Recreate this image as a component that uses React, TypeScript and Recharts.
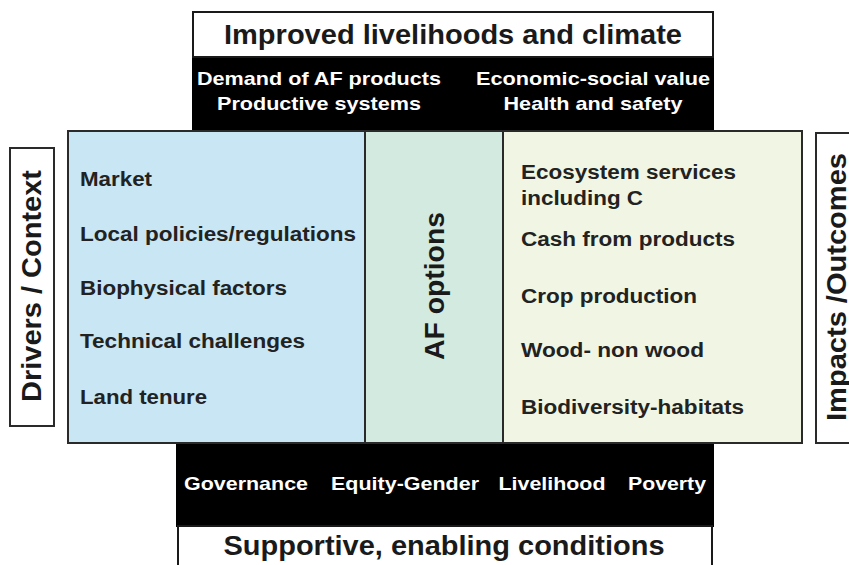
import { ComposedChart, XAxis, YAxis, ReferenceArea, Scatter } from "recharts";

// diagram boxes: [x1, x2, y1, y2] in page pixels
const BOXES = [
  { id: "topBand", x1: 193, x2: 713, y1: 57, y2: 131, fill: "#000000", stroke: "#000000" },
  { id: "bottomBand", x1: 177, x2: 713, y1: 442, y2: 526, fill: "#000000", stroke: "#000000" },
  { id: "topTitle", x1: 193, x2: 713, y1: 12, y2: 57, fill: "#FFFFFF", stroke: "#1A1A1A" },
  { id: "bottomTitle", x1: 178, x2: 712, y1: 526, y2: 570, fill: "#FFFFFF", stroke: "#1A1A1A" },
  { id: "drivers", x1: 68, x2: 365, y1: 131, y2: 443, fill: "#C8E6F3", stroke: "#2A2A2A" },
  { id: "options", x1: 365, x2: 503, y1: 131, y2: 443, fill: "#D3EAE0", stroke: "#2A2A2A" },
  { id: "impacts", x1: 503, x2: 802, y1: 131, y2: 443, fill: "#F1F6E4", stroke: "#2A2A2A" },
  { id: "leftTag", x1: 10, x2: 54, y1: 148, y2: 426, fill: "#FFFFFF", stroke: "#2A2A2A" },
  { id: "rightTag", x1: 816, x2: 860, y1: 133, y2: 443, fill: "#FFFFFF", stroke: "#2A2A2A" },
];

const titleLabels = ["Improved livelihoods and climate", "Supportive, enabling conditions"];
const titleX = [453, 444];
const titleY = [35, 546];
const titleW = [458, 441];

const topBandLabels = ["Demand of AF products", "Productive systems", "Economic-social value", "Health and safety"];
const topBandX = [319, 319, 593, 593];
const topBandY = [78, 103, 78, 103];
const topBandW = [244, 204, 234, 179];

const bottomBandLabels = ["Governance", "Equity-Gender", "Livelihood", "Poverty"];
const bottomBandX = [246, 405, 552, 667];
const bottomBandW = [124, 148, 107, 78];

const driverLabels = ["Market", "Local policies/regulations", "Biophysical factors", "Technical challenges", "Land tenure"];
const driverY = [179, 234, 288, 341, 397];
const driverW = [72, 276, 207, 225, 127];

const impactLabels = ["Ecosystem services", "including C", "Cash from products", "Crop production", "Wood- non wood", "Biodiversity-habitats"];
const impactY = [172, 198, 239, 296, 350, 407];
const impactW = [215, 122, 214, 176, 183, 223];

const sideLabels = ["Drivers / Context", "AF options", "Impacts /Outcomes"];
const sideX = [32, 435, 837];
const sideY = [286, 286, 287];
const sideW = [232, 148, 268];

const FONT = "'Liberation Sans', Arial, sans-serif";

const titleData = titleLabels.map((t, i) => ({ x: titleX[i], y: titleY[i], t, w: titleW[i] }));
const topBandData = topBandLabels.map((t, i) => ({ x: topBandX[i], y: topBandY[i], t, w: topBandW[i] }));
const bottomBandData = bottomBandLabels.map((t, i) => ({ x: bottomBandX[i], y: 483, t, w: bottomBandW[i] }));
const driverData = driverLabels.map((t, i) => ({ x: 80, y: driverY[i], t, w: driverW[i] }));
const impactData = impactLabels.map((t, i) => ({ x: 521, y: impactY[i], t, w: impactW[i] }));
const sideData = sideLabels.map((t, i) => ({ x: sideX[i], y: sideY[i], t, w: sideW[i] }));

const makeText = (size: number, color: string, anchor: string, rotate = false) => (props: any) => {
  const { cx, cy, payload } = props;
  return (
    <text
      x={cx}
      y={cy}
      fill={color}
      fontFamily={FONT}
      fontWeight="bold"
      fontSize={size}
      textAnchor={anchor}
      dominantBaseline="central"
      textLength={payload.w}
      lengthAdjust="spacingAndGlyphs"
      transform={rotate ? `rotate(-90, ${cx}, ${cy})` : undefined}
    >
      {payload.t}
    </text>
  );
};

export default function App() {
  return (
    <div style={{ position: "absolute", left: 0, top: 0, background: "#FFFFFF" }}>
      <ComposedChart width={849} height={565} margin={{ top: 0, right: 0, bottom: 0, left: 0 }}>
        <XAxis type="number" dataKey="x" domain={[0, 849]} hide allowDataOverflow />
        <YAxis type="number" dataKey="y" domain={[0, 565]} reversed hide allowDataOverflow />
        {BOXES.map((b) => (
          <ReferenceArea
            key={b.id}
            x1={b.x1}
            x2={b.x2}
            y1={b.y1}
            y2={b.y2}
            fill={b.fill}
            fillOpacity={1}
            stroke={b.stroke}
            strokeWidth={2}
            ifOverflow="visible"
          />
        ))}
        <Scatter data={titleData} isAnimationActive={false} shape={makeText(27, "#1A1A1A", "middle")} />
        <Scatter data={topBandData} isAnimationActive={false} shape={makeText(19, "#FFFFFF", "middle")} />
        <Scatter data={bottomBandData} isAnimationActive={false} shape={makeText(19, "#FFFFFF", "middle")} />
        <Scatter data={driverData} isAnimationActive={false} shape={makeText(20, "#222222", "start")} />
        <Scatter data={impactData} isAnimationActive={false} shape={makeText(20, "#222222", "start")} />
        <Scatter data={sideData} isAnimationActive={false} shape={makeText(27, "#1A1A1A", "middle", true)} />
      </ComposedChart>
    </div>
  );
}
